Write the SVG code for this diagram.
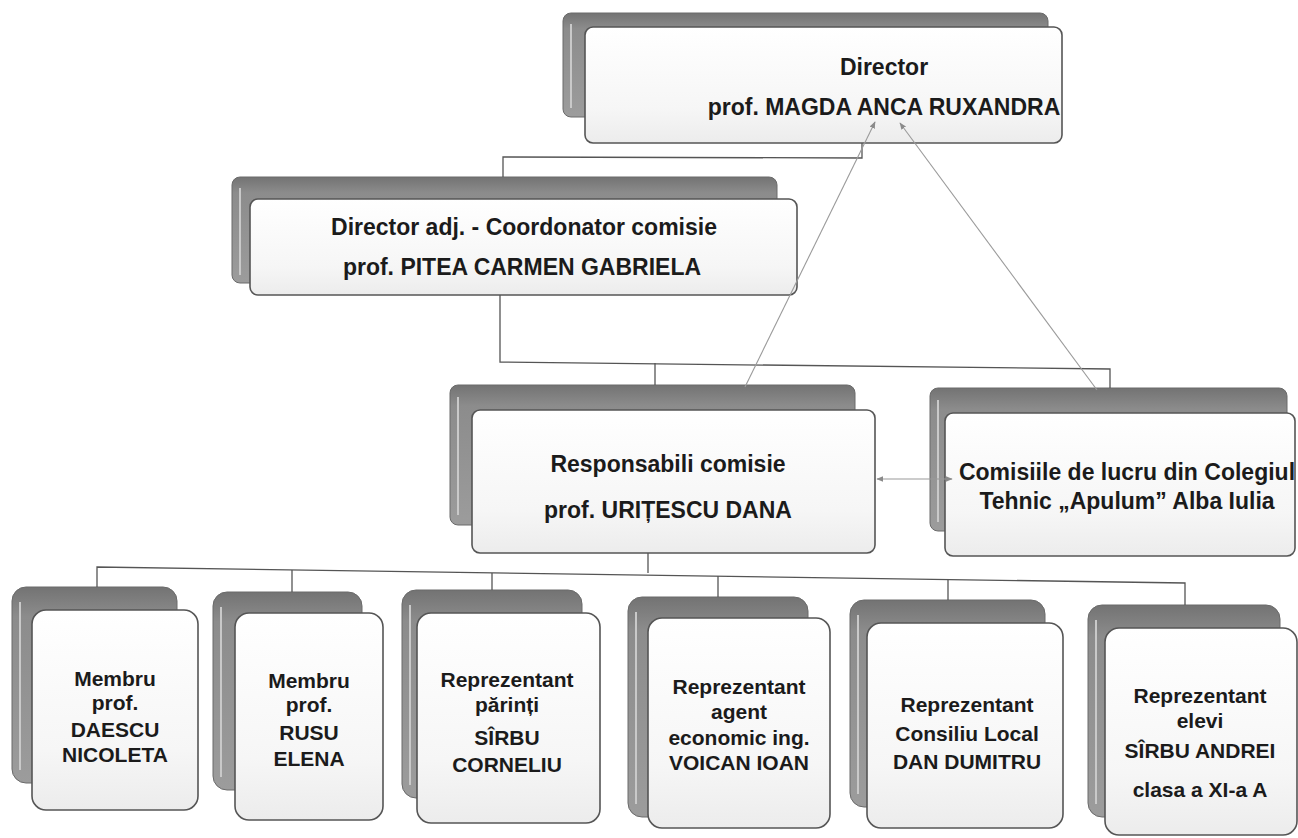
<svg xmlns="http://www.w3.org/2000/svg" width="1298" height="838" viewBox="0 0 1298 838">
<defs>
<linearGradient id="backG" x1="0" y1="0" x2="0" y2="1">
<stop offset="0" stop-color="#737373"/>
<stop offset="0.15" stop-color="#8c8c8c"/>
<stop offset="1" stop-color="#9c9c9c"/>
</linearGradient>
<linearGradient id="frontG" x1="0" y1="0" x2="0" y2="1">
<stop offset="0" stop-color="#ffffff"/>
<stop offset="0.7" stop-color="#f6f6f6"/>
<stop offset="1" stop-color="#ececec"/>
</linearGradient>
<marker id="ah" viewBox="0 0 10 10" refX="9" refY="5" markerWidth="7" markerHeight="7" orient="auto-start-reverse" markerUnits="userSpaceOnUse">
<path d="M0,1 L10,5 L0,9 z" fill="#8a8a8a"/>
</marker>
</defs>
<style>
.back{fill:url(#backG);stroke:#6a6a6a;stroke-width:1}
.hl{stroke:#c9c9c9;stroke-width:2;fill:none}
.front{fill:url(#frontG);stroke:#555;stroke-width:1.6}
.t{font-family:"Liberation Sans",Arial,sans-serif;font-weight:bold;font-size:23px;fill:#1b1b1b;text-anchor:middle}
.s{font-size:21px}
.c{fill:none;stroke:#555;stroke-width:1.3}
.a{fill:none;stroke:#9a9a9a;stroke-width:1.1}
</style>
<rect width="1298" height="838" fill="#ffffff"/>

<g id="director">
<rect class="back" x="563" y="13" width="485" height="104" rx="8"/>
<line class="hl" x1="571" y1="24" x2="571" y2="108"/>
<rect class="front" x="585" y="27" width="477" height="116" rx="8"/>
<text class="t" x="884" y="75">Director</text>
<text class="t" x="884" y="115">prof. MAGDA ANCA RUXANDRA</text>
</g>

<g id="director-adj">
<rect class="back" x="232" y="177" width="545" height="106" rx="8"/>
<line class="hl" x1="240" y1="188" x2="240" y2="275"/>
<rect class="front" x="250" y="199" width="547" height="96" rx="8"/>
<text class="t" x="524" y="235">Director adj. - Coordonator comisie</text>
<text class="t" x="522" y="275">prof. PITEA CARMEN GABRIELA</text>
</g>

<g id="responsabili">
<rect class="back" x="450" y="385" width="405" height="140" rx="8"/>
<line class="hl" x1="458" y1="397" x2="458" y2="515"/>
<rect class="front" x="472" y="410" width="403" height="143" rx="8"/>
<text class="t" x="668" y="472">Responsabili comisie</text>
<text class="t" x="668" y="518">prof. URIȚESCU DANA</text>
</g>

<g id="comisiile">
<rect class="back" x="930" y="388" width="357" height="143" rx="8"/>
<line class="hl" x1="938" y1="400" x2="938" y2="522"/>
<rect class="front" x="945" y="413" width="350" height="143" rx="8"/>
<text class="t" x="1127" y="480">Comisiile de lucru din Colegiul</text>
<text class="t" x="1127" y="509">Tehnic „Apulum” Alba Iulia</text>
</g>

<g id="membru-daescu">
<rect class="back" x="12" y="587" width="165" height="196" rx="14"/>
<line class="hl" x1="20" y1="602" x2="20" y2="770"/>
<rect class="front" x="32" y="610" width="166" height="200" rx="14"/>
<text class="t s" x="115" y="686">Membru</text>
<text class="t s" x="115" y="710">prof.</text>
<text class="t s" x="115" y="737">DAESCU</text>
<text class="t s" x="115" y="762">NICOLETA</text>
</g>

<g id="membru-rusu">
<rect class="back" x="213" y="592" width="149" height="198" rx="14"/>
<line class="hl" x1="221" y1="607" x2="221" y2="777"/>
<rect class="front" x="235" y="613" width="148" height="207" rx="14"/>
<text class="t s" x="309" y="688">Membru</text>
<text class="t s" x="309" y="712">prof.</text>
<text class="t s" x="309" y="740">RUSU</text>
<text class="t s" x="309" y="766">ELENA</text>
</g>

<g id="reprezentant-parinti">
<rect class="back" x="402" y="590" width="180" height="208" rx="14"/>
<line class="hl" x1="410" y1="605" x2="410" y2="785"/>
<rect class="front" x="417" y="613" width="183" height="210" rx="14"/>
<text class="t s" x="507" y="687">Reprezentant</text>
<text class="t s" x="507" y="712">părinți</text>
<text class="t s" x="507" y="745">SÎRBU</text>
<text class="t s" x="507" y="772">CORNELIU</text>
</g>

<g id="reprezentant-agent">
<rect class="back" x="628" y="597" width="180" height="220" rx="14"/>
<line class="hl" x1="636" y1="612" x2="636" y2="804"/>
<rect class="front" x="648" y="618" width="182" height="210" rx="14"/>
<text class="t s" x="739" y="694">Reprezentant</text>
<text class="t s" x="739" y="719">agent</text>
<text class="t s" x="739" y="745">economic ing.</text>
<text class="t s" x="739" y="770">VOICAN IOAN</text>
</g>

<g id="reprezentant-consiliu">
<rect class="back" x="850" y="600" width="195" height="207" rx="14"/>
<line class="hl" x1="858" y1="615" x2="858" y2="794"/>
<rect class="front" x="867" y="623" width="196" height="205" rx="14"/>
<text class="t s" x="967" y="712">Reprezentant</text>
<text class="t s" x="967" y="741">Consiliu Local</text>
<text class="t s" x="967" y="769">DAN DUMITRU</text>
</g>

<g id="reprezentant-elevi">
<rect class="back" x="1088" y="605" width="192" height="212" rx="14"/>
<line class="hl" x1="1096" y1="620" x2="1096" y2="804"/>
<rect class="front" x="1105" y="628" width="192" height="207" rx="14"/>
<text class="t s" x="1200" y="703">Reprezentant</text>
<text class="t s" x="1200" y="728">elevi</text>
<text class="t s" x="1200" y="758">SÎRBU ANDREI</text>
<text class="t s" x="1200" y="797">clasa a XI-a A</text>
</g>

<g id="connectors">
<polyline class="c" points="862,143 862,158 503,157 503,177"/>
<polyline class="c" points="500,295 500,362 1110,369 1110,388"/>
<line class="c" x1="655" y1="363" x2="655" y2="385"/>
<line class="c" x1="648" y1="553" x2="648" y2="573"/>
<polyline class="c" points="97,587 97,567 1185,583 1185,605"/>
<line class="c" x1="292" y1="570" x2="292" y2="592"/>
<line class="c" x1="492" y1="573" x2="492" y2="590"/>
<line class="c" x1="718" y1="576" x2="718" y2="597"/>
<line class="c" x1="948" y1="579" x2="948" y2="600"/>
<line class="a" x1="745" y1="387" x2="875" y2="122" marker-end="url(#ah)"/>
<line class="a" x1="1097" y1="390" x2="900" y2="123" marker-end="url(#ah)"/>
<line class="a" x1="877" y1="479" x2="952" y2="479" marker-start="url(#ah)" marker-end="url(#ah)"/>
</g>
</svg>
